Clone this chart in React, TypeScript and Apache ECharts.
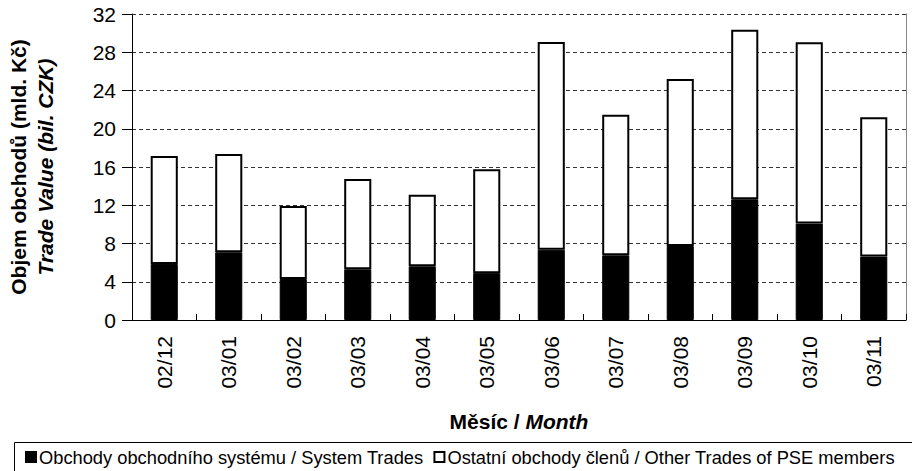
import React, { useEffect, useRef } from "react";
import * as echarts from "echarts";

const categories = ["02/12", "03/01", "03/02", "03/03", "03/04", "03/05", "03/06", "03/07", "03/08", "03/09", "03/10", "03/11"];
const systemTrades = [5.86, 7.08, 4.29, 5.3, 5.61, 4.9, 7.35, 6.76, 7.74, 12.62, 10.08, 6.63];
const otherTrades = [11.29, 10.28, 7.63, 9.45, 7.49, 10.86, 21.72, 14.71, 17.46, 17.74, 18.96, 14.57];
const yTicks = { min: 0, max: 32, interval: 4 };
const seriesNames = ["Obchody obchodního systému / System Trades", "Ostatní obchody členů / Other Trades of PSE members"];

const FONT = "'Liberation Sans', Arial, sans-serif";

export default function App() {
  const ref = useRef<HTMLDivElement>(null);
  useEffect(() => {
    document.body.style.margin = "0";
    const chart = echarts.init(ref.current!, null, { renderer: "svg" });
    chart.setOption({
      animation: false,
      backgroundColor: "#ffffff",
      textStyle: { fontFamily: FONT, color: "#000" },
      grid: { left: 129, right: 6, top: 14, bottom: 151, containLabel: false },
      graphic: [
        {
          type: "rect",
          z: 0,
          shape: { x: 14.5, y: 442.5, width: 930, height: 60 },
          style: { fill: "none", stroke: "#000", lineWidth: 1 },
        },
      ],
      legend: {
        left: 25,
        top: 448,
        itemGap: 10,
        itemWidth: 10,
        itemHeight: 10,
        padding: 0,
        textStyle: { fontSize: 18.3, fontFamily: FONT, color: "#000", padding: [0, 0, 0, -2] },
        data: [
          { name: seriesNames[0], icon: "rect" },
          { name: seriesNames[1], icon: "rect", itemStyle: { borderWidth: 2 } },
        ],
      },
      xAxis: [
        {
          type: "category",
          data: categories,
          name: "{b|Měsíc / }{bi|Month}",
          nameLocation: "middle",
          nameGap: 91,
          nameTextStyle: {
            rich: {
              b: { fontSize: 21, fontWeight: "bold", fontFamily: FONT, color: "#000" },
              bi: { fontSize: 21, fontWeight: "bold", fontStyle: "italic", fontFamily: FONT, color: "#000" },
            },
          },
          axisLine: { lineStyle: { color: "#000", width: 1 } },
          axisTick: { alignWithLabel: false, length: 7, lineStyle: { color: "#000" } },
          axisLabel: { rotate: 90, fontSize: 21, color: "#000", fontFamily: FONT, margin: 16 },
        },
        {
          type: "category",
          data: categories,
          position: "bottom",
          axisLine: { show: false },
          axisTick: { show: true, inside: true, alignWithLabel: false, length: 6, lineStyle: { color: "#000" } },
          axisLabel: { show: false },
          splitLine: { show: false },
        },
      ],
      yAxis: [
        {
          type: "value",
          min: yTicks.min,
          max: yTicks.max,
          interval: yTicks.interval,
          name: "{b|Objem obchodů (mld. Kč)}\n{bi|Trade Value (bil. CZK)}",
          nameLocation: "middle",
          nameGap: 73,
          nameRotate: 90,
          nameTextStyle: {
            align: "center",
            rich: {
              b: { fontSize: 21, fontWeight: "bold", fontFamily: FONT, color: "#000", lineHeight: 27, align: "center" },
              bi: { fontSize: 21, fontWeight: "bold", fontStyle: "italic", fontFamily: FONT, color: "#000", lineHeight: 27, align: "center" },
            },
          },
          axisLine: { show: true, lineStyle: { color: "#000", width: 1 } },
          axisTick: { show: true, length: 10, lineStyle: { color: "#000" } },
          axisLabel: { fontSize: 21, color: "#000", fontFamily: FONT, margin: 16 },
          splitLine: { show: true, lineStyle: { color: "#333", type: [4, 3], width: 1 } },
        },
        {
          type: "value",
          min: yTicks.min,
          max: yTicks.max,
          interval: yTicks.interval,
          position: "right",
          axisLine: { show: true, lineStyle: { color: "#888", width: 1 } },
          axisTick: { show: false },
          axisLabel: { show: false },
          splitLine: { show: false },
        },
      ],
      series: [
        {
          name: seriesNames[0],
          type: "bar",
          stack: "total",
          data: systemTrades,
          barWidth: "42%",
          itemStyle: { color: "#000", borderColor: "#000", borderWidth: 1 },
        },
        {
          name: seriesNames[1],
          type: "bar",
          stack: "total",
          data: otherTrades,
          barWidth: "42%",
          itemStyle: { color: "#fff", borderColor: "#000", borderWidth: 2 },
        },
      ],
    });
    return () => chart.dispose();
  }, []);
  return <div ref={ref} style={{ width: 912, height: 471 }} />;
}
